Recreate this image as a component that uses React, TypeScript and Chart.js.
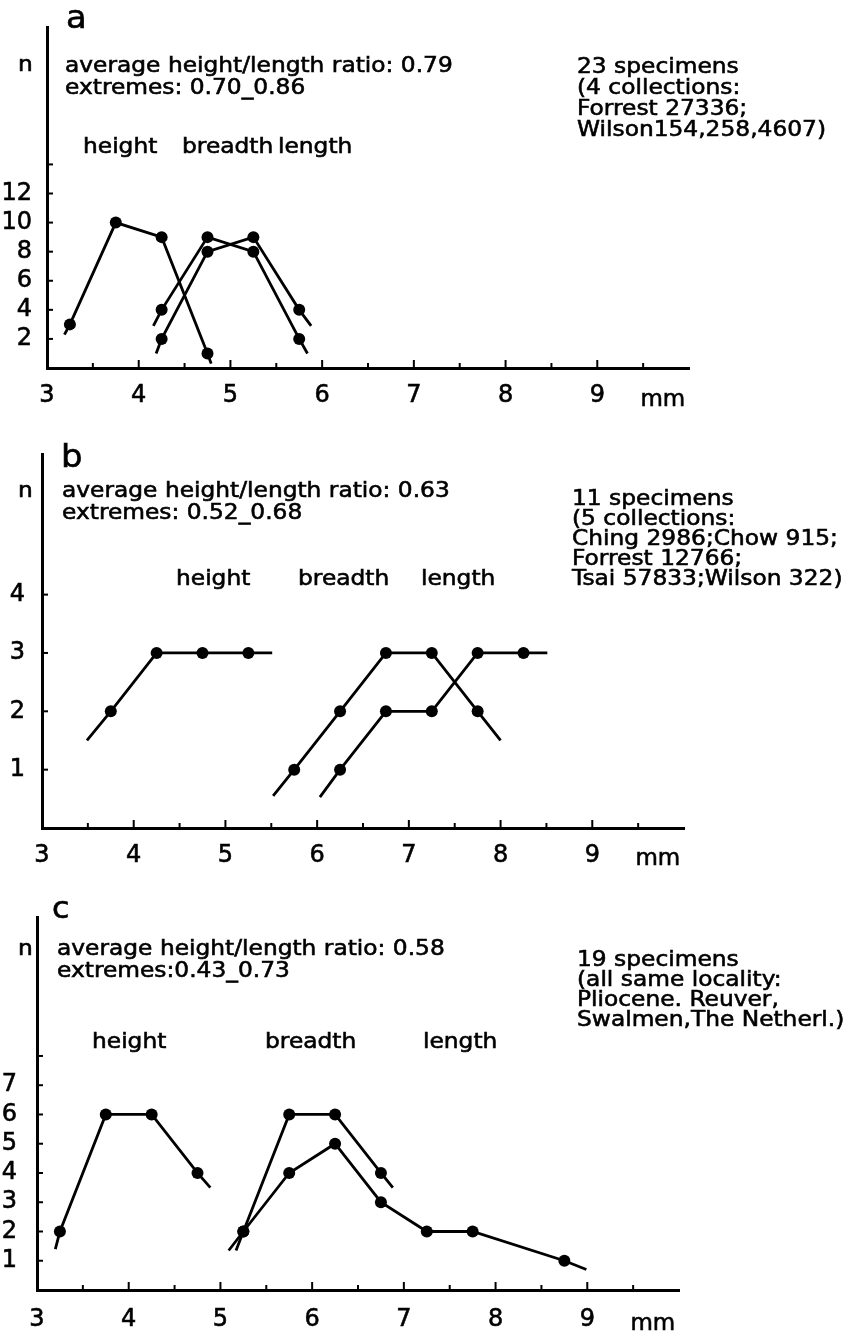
import React, { useEffect, useRef } from 'react';
import { Chart, registerables } from 'chart.js';

Chart.register(...registerables);

const FONT = '"DejaVu Sans", "Liberation Sans", sans-serif';

// ---------- shared axis ticks ----------
const X_TICKS = [3, 4, 5, 6, 7, 8, 9];

// ---------- panel a (23 specimens) ----------
// first and last entries of each series are the short line ends drawn without a dot
const A_HEIGHT_MM = [3.19, 3.25, 3.75, 4.25, 4.75, 4.79];
const A_HEIGHT_N = [2.3, 3, 10, 9, 1, 0.3];
const A_BREADTH_MM = [4.16, 4.25, 4.75, 5.25, 5.75, 5.84];
const A_BREADTH_N = [2.9, 4, 9, 8, 2, 1.0];
const A_LENGTH_MM = [4.19, 4.25, 4.75, 5.25, 5.75, 5.88];
const A_LENGTH_N = [1.0, 2, 8, 9, 4, 2.9];
const A_Y_TICKS = [2, 4, 6, 8, 10, 12, 14];
const A_Y_LABEL_MAX = 12;

// ---------- panel b (11 specimens) ----------
const B_HEIGHT_MM = [3.49, 3.75, 4.25, 4.75, 5.25, 5.51];
const B_HEIGHT_N = [1.5, 2, 3, 3, 3, 3];
const B_BREADTH_MM = [5.52, 5.75, 6.25, 6.75, 7.25, 7.75, 8.0];
const B_BREADTH_N = [0.55, 1, 2, 3, 3, 2, 1.5];
const B_LENGTH_MM = [6.03, 6.25, 6.75, 7.25, 7.75, 8.25, 8.51];
const B_LENGTH_N = [0.53, 1, 2, 2, 3, 3, 3];
const B_Y_TICKS = [1, 2, 3, 4];
const B_Y_LABEL_MAX = 4;

// ---------- panel c (19 specimens) ----------
const C_HEIGHT_MM = [3.2, 3.25, 3.75, 4.25, 4.75, 4.89];
const C_HEIGHT_N = [1.4, 2, 6, 6, 4, 3.5];
const C_BREADTH_MM = [5.17, 5.25, 5.75, 6.25, 6.75, 6.88];
const C_BREADTH_N = [1.35, 2, 6, 6, 4, 3.5];
const C_LENGTH_MM = [5.09, 5.25, 5.75, 6.25, 6.75, 7.25, 7.75, 8.75, 8.99];
const C_LENGTH_N = [1.35, 2, 4, 5, 3, 2, 2, 1, 0.7];
const C_Y_TICKS = [1, 2, 3, 4, 5, 6, 7, 8];
const C_Y_LABEL_MAX = 7;

type Series = { mm: number[]; n: number[] };
type TextItem = { text: string; x: number; y: number; size?: number };
type Panel = {
  top: number;
  height: number;
  left: number;
  right: number;
  plotTop: number;
  plotBottom: number;
  yMax: number;
  yTicks: number[];
  yLabelMax: number;
  yLabelPad: number;
  xLabelPad: number;
  mmBaseline: number;
  series: Series[];
  texts: TextItem[];
};

const PANELS: Panel[] = [
  {
    top: 0,
    height: 420,
    left: 47,
    right: 689,
    plotTop: 8,
    plotBottom: 368,
    yMax: 23.45,
    yTicks: A_Y_TICKS,
    yLabelMax: A_Y_LABEL_MAX,
    yLabelPad: 15,
    xLabelPad: 16,
    mmBaseline: 406,
    series: [
      { mm: A_HEIGHT_MM, n: A_HEIGHT_N },
      { mm: A_BREADTH_MM, n: A_BREADTH_N },
      { mm: A_LENGTH_MM, n: A_LENGTH_N },
    ],
    texts: [
      { text: 'a', x: 66, y: 28, size: 32 },
      { text: 'n', x: 18, y: 71 },
      { text: 'average height/length ratio: 0.79', x: 65, y: 72 },
      { text: 'extremes: 0.70_0.86', x: 65, y: 94 },
      { text: '23 specimens', x: 577, y: 73 },
      { text: '(4 collections:', x: 577, y: 94 },
      { text: 'Forrest 27336;', x: 577, y: 115 },
      { text: 'Wilson154,258,4607)', x: 577, y: 136 },
      { text: 'height', x: 83, y: 153 },
      { text: 'breadth', x: 182, y: 153 },
      { text: 'length', x: 278, y: 153 },
    ],
  },
  {
    top: 425,
    height: 455,
    left: 42,
    right: 684,
    plotTop: 437,
    plotBottom: 828,
    yMax: 6.41,
    yTicks: B_Y_TICKS,
    yLabelMax: B_Y_LABEL_MAX,
    yLabelPad: 17,
    xLabelPad: 16,
    mmBaseline: 865,
    series: [
      { mm: B_HEIGHT_MM, n: B_HEIGHT_N },
      { mm: B_BREADTH_MM, n: B_BREADTH_N },
      { mm: B_LENGTH_MM, n: B_LENGTH_N },
    ],
    texts: [
      { text: 'b', x: 61, y: 467, size: 32 },
      { text: 'n', x: 18, y: 497 },
      { text: 'average height/length ratio: 0.63', x: 62, y: 497 },
      { text: 'extremes: 0.52_0.68', x: 62, y: 519 },
      { text: '11 specimens', x: 572, y: 505 },
      { text: '(5 collections:', x: 572, y: 525 },
      { text: 'Ching 2986;Chow 915;', x: 572, y: 545 },
      { text: 'Forrest 12766;', x: 572, y: 565 },
      { text: 'Tsai 57833;Wilson 322)', x: 572, y: 585 },
      { text: 'height', x: 176, y: 585 },
      { text: 'breadth', x: 298, y: 585 },
      { text: 'length', x: 421, y: 585 },
    ],
  },
  {
    top: 885,
    height: 452,
    left: 37,
    right: 679,
    plotTop: 900,
    plotBottom: 1290,
    yMax: 12.75,
    yTicks: C_Y_TICKS,
    yLabelMax: C_Y_LABEL_MAX,
    yLabelPad: 20,
    xLabelPad: 18,
    mmBaseline: 1330,
    series: [
      { mm: C_HEIGHT_MM, n: C_HEIGHT_N },
      { mm: C_BREADTH_MM, n: C_BREADTH_N },
      { mm: C_LENGTH_MM, n: C_LENGTH_N },
    ],
    texts: [
      { text: 'c', x: 52, y: 918, size: 30 },
      { text: 'n', x: 18, y: 955 },
      { text: 'average height/length ratio: 0.58', x: 57, y: 955 },
      { text: 'extremes:0.43_0.73', x: 57, y: 977 },
      { text: '19 specimens', x: 577, y: 966 },
      { text: '(all same locality:', x: 577, y: 986 },
      { text: 'Pliocene. Reuver,', x: 577, y: 1006 },
      { text: 'Swalmen,The Netherl.)', x: 577, y: 1026 },
      { text: 'height', x: 92, y: 1048 },
      { text: 'breadth', x: 265, y: 1048 },
      { text: 'length', x: 423, y: 1048 },
    ],
  },
];

const TEXT_STRETCH = 1.06;
const TEXT_STROKE = 0.6;

function decorPlugin(panel: Panel) {
  return {
    id: 'decor',
    afterDraw(chart: any) {
      const ctx: CanvasRenderingContext2D = chart.ctx;
      const xs = chart.scales.x;
      const ys = chart.scales.y;
      const area = chart.chartArea;
      ctx.save();
      ctx.strokeStyle = '#000';
      ctx.lineWidth = 2;
      // inward tick marks on the x axis every half millimetre
      for (let k = 7; k <= 19; k++) {
        const px = xs.getPixelForValue(k / 2);
        const len = k % 2 === 0 ? 8 : 5;
        ctx.beginPath();
        ctx.moveTo(px, area.bottom);
        ctx.lineTo(px, area.bottom - len);
        ctx.stroke();
      }
      // inward tick marks on the y axis
      for (const v of panel.yTicks) {
        const py = ys.getPixelForValue(v);
        ctx.beginPath();
        ctx.moveTo(area.left, py);
        ctx.lineTo(area.left + 6, py);
        ctx.stroke();
      }
      ctx.fillStyle = '#000';
      ctx.textAlign = 'left';
      ctx.textBaseline = 'alphabetic';
      ctx.lineWidth = TEXT_STROKE;
      ctx.font = `23px ${FONT}`;
      const mmX = xs.getPixelForValue(9.47);
      ctx.fillText('mm', mmX, panel.mmBaseline - panel.top);
      ctx.strokeText('mm', mmX, panel.mmBaseline - panel.top);
      for (const t of panel.texts) {
        ctx.save();
        ctx.font = `${t.size ?? 22}px ${FONT}`;
        ctx.translate(t.x, t.y - panel.top);
        ctx.scale(TEXT_STRETCH, 1);
        ctx.fillText(t.text, 0, 0);
        ctx.strokeText(t.text, 0, 0);
        ctx.restore();
      }
      ctx.restore();
    },
  };
}

function PanelChart({ panel }: { panel: Panel }) {
  const ref = useRef<HTMLCanvasElement>(null);
  useEffect(() => {
    const canvas = ref.current;
    if (!canvas) return;
    const tickFont = { family: FONT, size: 24, lineHeight: 1 };
    const chart = new Chart(canvas, {
      type: 'scatter',
      data: {
        datasets: panel.series.map((s) => ({
          data: s.mm.map((x, i) => ({ x, y: s.n[i] })),
          showLine: true,
          borderColor: '#000',
          backgroundColor: '#000',
          borderWidth: 2.8,
          pointBackgroundColor: '#000',
          pointBorderWidth: 0,
          pointRadius: (c: any) => (c.dataIndex === 0 || c.dataIndex === s.mm.length - 1 ? 0 : 6),
          pointHoverRadius: 0,
          tension: 0,
          clip: false as any,
        })),
      },
      options: {
        responsive: false,
        animation: false,
        devicePixelRatio: 1,
        events: [],
        layout: {
          autoPadding: false,
          padding: {
            top: panel.plotTop - panel.top,
            right: 849 - panel.right,
            left: 0,
            bottom: 0,
          },
        },
        plugins: {
          legend: { display: false },
          tooltip: { enabled: false },
        },
        scales: {
          x: {
            type: 'linear',
            min: 3,
            max: 10,
            afterFit: (s: any) => {
              s.height = panel.height - (panel.plotBottom - panel.top);
            },
            afterBuildTicks: (s: any) => {
              s.ticks = X_TICKS.map((v) => ({ value: v }));
            },
            grid: { display: false, drawTicks: false },
            border: { display: true, color: '#000', width: 3 },
            ticks: {
              color: '#000',
              font: tickFont,
              textStrokeColor: '#000',
              textStrokeWidth: TEXT_STROKE,
              padding: panel.xLabelPad,
              maxRotation: 0,
              autoSkip: false,
              callback: (v: any) => String(v),
            },
          },
          y: {
            type: 'linear',
            min: 0,
            max: panel.yMax,
            afterFit: (s: any) => {
              s.width = panel.left;
            },
            afterBuildTicks: (s: any) => {
              s.ticks = panel.yTicks.map((v) => ({ value: v }));
            },
            grid: { display: false, drawTicks: false },
            border: { display: true, color: '#000', width: 3 },
            ticks: {
              color: '#000',
              font: tickFont,
              textStrokeColor: '#000',
              textStrokeWidth: TEXT_STROKE,
              padding: panel.yLabelPad,
              autoSkip: false,
              callback: (v: any) => (Number(v) <= panel.yLabelMax ? String(v) : ''),
            },
          },
        },
      } as any,
      plugins: [decorPlugin(panel)],
    });
    return () => chart.destroy();
  }, [panel]);
  return (
    <canvas
      ref={ref}
      width={849}
      height={panel.height}
      style={{ position: 'absolute', left: 0, top: panel.top, width: 849, height: panel.height }}
    />
  );
}

export default function App() {
  return (
    <div
      style={{
        position: 'absolute',
        left: 0,
        top: 0,
        width: 849,
        height: 1337,
        background: '#fff',
        overflow: 'hidden',
      }}
    >
      {PANELS.map((p, i) => (
        <PanelChart key={i} panel={p} />
      ))}
    </div>
  );
}
